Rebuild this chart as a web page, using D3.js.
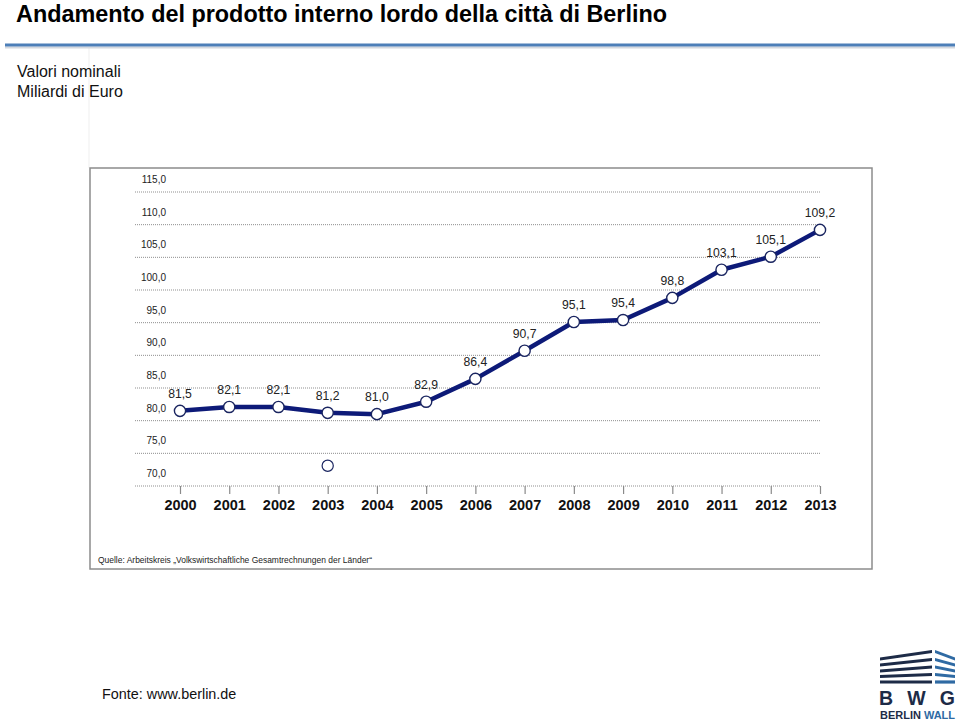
<!DOCTYPE html>
<html>
<head>
<meta charset="utf-8">
<script src="https://cdn.jsdelivr.net/npm/d3@7"></script>
<style>
  html, body { margin: 0; padding: 0; background: #fff; }
  svg { display: block; font-family: "Liberation Sans", Arial, Helvetica, sans-serif; }
</style>
</head>
<body>
<svg id="chart" width="960" height="724"></svg>
<script>
// ---- data ----
const years = [2000, 2001, 2002, 2003, 2004, 2005, 2006, 2007, 2008, 2009, 2010, 2011, 2012, 2013];
const gdpValues = [81.5, 82.1, 82.1, 81.2, 81.0, 82.9, 86.4, 90.7, 95.1, 95.4, 98.8, 103.1, 105.1, 109.2];
const valueLabels = ["81,5", "82,1", "82,1", "81,2", "81,0", "82,9", "86,4", "90,7", "95,1", "95,4", "98,8", "103,1", "105,1", "109,2"];
const yTicks = [70, 75, 80, 85, 90, 95, 100, 105, 110, 115];
const yTickLabels = ["70,0", "75,0", "80,0", "85,0", "90,0", "95,0", "100,0", "105,0", "110,0", "115,0"];
const strayPointYears = [2003];
const strayPointValues = [73.1];

const titleText = "Andamento del prodotto interno lordo della città di Berlino";
const subtitleLines = ["Valori nominali", "Miliardi di Euro"];
const sourceInside = "Quelle: Arbeitskreis \u201EVolkswirtschaftliche Gesamtrechnungen der L\u00E4nder\u201C";
const sourceOutside = "Fonte: www.berlin.de";

// ---- layout ----
const svg = d3.select("#chart");
const x = d3.scaleLinear().domain([2000, 2013]).range([180, 820]);
const y = d3.scaleLinear().domain([70, 115]).range([486, 192]);
const gridX0 = 135, gridX1 = 820;

// header
svg.append("line").attr("x1", 89).attr("x2", 89).attr("y1", 48).attr("y2", 168)
  .attr("stroke", "#efefef").attr("stroke-width", 1);
svg.append("text").attr("x", 16).attr("y", 22)
  .attr("font-size", 23.4).attr("font-weight", "bold").attr("fill", "#000")
  .text(titleText);
svg.append("line").attr("x1", 5).attr("x2", 955).attr("y1", 47.5).attr("y2", 47.5)
  .attr("stroke", "#d4d8de").attr("stroke-width", 2);
svg.append("line").attr("x1", 5).attr("x2", 955).attr("y1", 45).attr("y2", 45)
  .attr("stroke", "#4d7fb8").attr("stroke-width", 3);

svg.selectAll("text.sub").data(subtitleLines).enter().append("text")
  .attr("class", "sub")
  .attr("x", 17).attr("y", (d, i) => 77 + i * 20)
  .attr("font-size", 16).attr("fill", "#111")
  .text(d => d);

// chart frame
svg.append("rect").attr("x", 90).attr("y", 168).attr("width", 782).attr("height", 401)
  .attr("fill", "#fff").attr("stroke", "#8c8c8c").attr("stroke-width", 1.5);

// gridlines
const grid = svg.append("g");
grid.selectAll("line").data(yTicks).enter().append("line")
  .attr("x1", gridX0).attr("x2", gridX1)
  .attr("y1", d => y(d)).attr("y2", d => y(d))
  .attr("stroke", "#8f8f8f").attr("stroke-width", 1)
  .attr("stroke-dasharray", "1,1");

// y tick labels (sit above their gridline)
svg.append("g").selectAll("text").data(yTicks).enter().append("text")
  .attr("x", 166).attr("y", d => y(d) - 9)
  .attr("text-anchor", "end").attr("font-size", 10).attr("fill", "#222")
  .text((d, i) => yTickLabels[i]);

// x axis ticks and labels
const xAxis = d3.axisBottom(x).tickValues(years).tickFormat(d3.format("d")).tickSize(8).tickSizeOuter(0);
const xg = svg.append("g").attr("transform", `translate(0,${y(70)})`).call(xAxis);
xg.select(".domain").remove();
xg.selectAll(".tick line").attr("stroke", "#8a8a8a").attr("stroke-width", 1.2);
xg.selectAll(".tick text").attr("font-family", "\"Liberation Sans\", Arial, sans-serif")
  .attr("font-size", 14.5).attr("font-weight", "bold").attr("fill", "#111")
  .attr("y", 14).attr("dy", "0.71em");

// line
const series = years.map((yr, i) => ({ year: yr, value: gdpValues[i], label: valueLabels[i] }));
const lineGen = d3.line().x(d => x(d.year)).y(d => y(d.value));
svg.append("path").datum(series)
  .attr("d", lineGen).attr("fill", "none")
  .attr("stroke", "#0d1a78").attr("stroke-width", 4.5).attr("stroke-linejoin", "round");

// markers
svg.append("g").selectAll("circle").data(series).enter().append("circle")
  .attr("cx", d => x(d.year)).attr("cy", d => y(d.value)).attr("r", 5.6)
  .attr("fill", "#fff").attr("stroke", "#1a2560").attr("stroke-width", 1.4);

// stray marker
svg.append("g").selectAll("circle").data(strayPointYears).enter().append("circle")
  .attr("cx", d => x(d)).attr("cy", (d, i) => y(strayPointValues[i])).attr("r", 5.6)
  .attr("fill", "#fff").attr("stroke", "#1a2560").attr("stroke-width", 1.2);

// value labels
svg.append("g").selectAll("text").data(series).enter().append("text")
  .attr("x", d => x(d.year)).attr("y", d => y(d.value) - 13)
  .attr("text-anchor", "middle").attr("font-size", 12.2).attr("fill", "#222")
  .text(d => d.label);

// source inside frame
svg.append("text").attr("x", 98).attr("y", 563)
  .attr("font-size", 8.6).attr("fill", "#222")
  .attr("textLength", 274).attr("lengthAdjust", "spacingAndGlyphs")
  .text(sourceInside);

// source outside
svg.append("text").attr("x", 102).attr("y", 699)
  .attr("font-size", 14.4).attr("fill", "#111")
  .text(sourceOutside);

// logo
const logo = svg.append("g");
const navy = "#1d2b47", blue = "#2f6aa3";
const leftL = [659, 665, 671, 676.5, 682];
const leftR = [651.5, 659.5, 667, 674.5, 682];
leftL.forEach((yl, i) => {
  const yr = leftR[i];
  logo.append("polygon")
    .attr("points", `880,${yl - 1.6} 932,${yr - 1.6} 932,${yr + 1.6} 880,${yl + 1.6}`)
    .attr("fill", navy);
});
const rightL = [651.5, 659.5, 667, 674.5, 682];
const rightR = [659, 665, 671, 676.5, 682];
rightL.forEach((yl, i) => {
  const yr = rightR[i];
  logo.append("polygon")
    .attr("points", `935,${yl - 1.6} 955,${yr - 1.6} 955,${yr + 1.6} 935,${yl + 1.6}`)
    .attr("fill", blue);
});
logo.append("text").attr("x", 879).attr("y", 705)
  .attr("font-size", 19.5).attr("font-weight", "bold").attr("fill", navy)
  .attr("textLength", 76).attr("lengthAdjust", "spacing")
  .text("B W G");
const bw = logo.append("text").attr("x", 880).attr("y", 719)
  .attr("font-size", 11.5).attr("font-weight", "bold")
  .attr("textLength", 75).attr("lengthAdjust", "spacingAndGlyphs");
bw.append("tspan").attr("fill", navy).text("BERLIN ");
bw.append("tspan").attr("fill", blue).text("WALL");
</script>
</body>
</html>
